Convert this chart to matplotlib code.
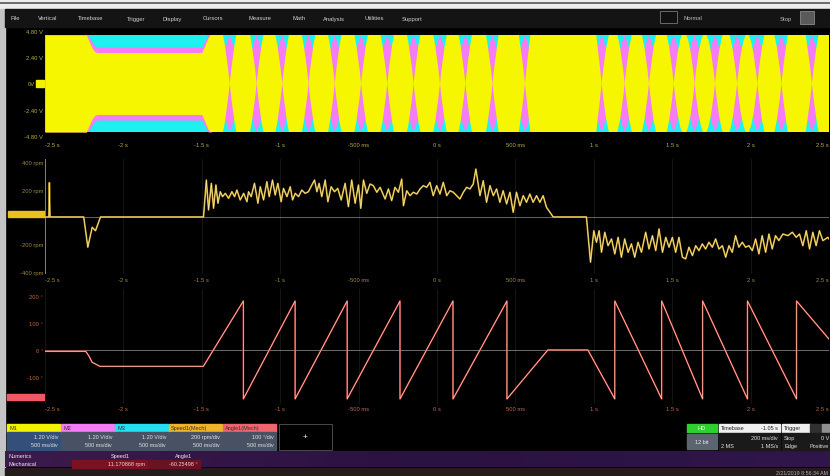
import numpy as np
import matplotlib.pyplot as plt
from matplotlib.path import Path
from matplotlib.patches import PathPatch, Rectangle
from matplotlib.transforms import blended_transform_factory

plt.rcParams['font.family'] = ['Liberation Sans', 'DejaVu Sans']

W, H = 830, 477

# time axis shared by the three panels
tick_t = [-2.5, -2, -1.5, -1, -0.5, 0, 0.5, 1, 1.5, 2, 2.5]
tick_txt = ['-2.5 s', '-2 s', '-1.5 s', '-1 s', '-500 ms', '0 s',
            '500 ms', '1 s', '1.5 s', '2 s', '2.5 s']

# top panel: phase voltages M1 (yellow), M2 (magenta), M3 (cyan)
volt_ticks = [4.8, 2.4, -2.4, -4.8]
volt_txt = ['4.80 V', '2.40 V', '-2.40 V', '-4.80 V']
rail_v = 4.43
band_t = [-2.50, -2.236, -2.22, -2.20, -2.185, -2.17, -1.50, -1.48, -1.46, -1.44]
band_yel = [4.43, 4.43, 3.9, 3.25, 2.95, 2.83, 2.83, 3.5, 4.2, 4.43]
band_mag = [4.43, 4.43, 4.3, 3.8, 3.5, 3.34, 3.34, 3.9, 4.43, 4.43]
# yellow envelope pinch points (magenta shows through at each one)
lens_edges = [-1.49, -1.322, -1.150, -0.987, -0.819, -0.652, -0.484, -0.317,
              -0.149, 0.019, 0.181, 0.354, 0.561, 1.050, 1.197, 1.352, 1.510,
              1.643, 1.773, 1.914, 2.043, 2.197, 2.391, 2.56]

# middle panel: Speed1 (Mech)
rpm_ticks = [400, 200, -200, -400]
rpm_txt = ['400 rpm', '200 rpm', '-200 rpm', '-400 rpm']
speed_t = [-2.500, -2.475, -2.472, -2.468, -2.253, -2.227, -2.199, -2.178, -2.146, -1.489,
           -1.471, -1.457, -1.439, -1.425, -1.410, -1.397, -1.382, -1.368, -1.350, -1.329,
           -1.308, -1.291, -1.276, -1.255, -1.233, -1.212, -1.202, -1.185, -1.164, -1.142,
           -1.127, -1.106, -1.085, -1.070, -1.049, -1.032, -1.015, -0.994, -0.979, -0.957,
           -0.936, -0.921, -0.904, -0.883, -0.862, -0.841, -0.820, -0.798, -0.781, -0.766,
           -0.752, -0.735, -0.713, -0.696, -0.675, -0.654, -0.633, -0.611, -0.586, -0.565,
           -0.544, -0.522, -0.501, -0.486, -0.469, -0.448, -0.427, -0.406, -0.384, -0.363,
           -0.331, -0.310, -0.289, -0.268, -0.246, -0.225, -0.214, -0.193, -0.172, -0.151,
           -0.129, -0.108, -0.087, -0.066, -0.045, -0.024, -0.002, 0.019, 0.040, 0.062,
           0.083, 0.104, 0.125, 0.146, 0.168, 0.189, 0.210, 0.231, 0.248, 0.263,
           0.274, 0.295, 0.316, 0.338, 0.359, 0.380, 0.401, 0.422, 0.444, 0.465,
           0.486, 0.507, 0.529, 0.550, 0.571, 0.592, 0.613, 0.635, 0.656, 0.677,
           0.698, 0.720, 0.741, 0.953, 0.979, 1.000, 1.017, 1.034, 1.049, 1.070,
           1.091, 1.113, 1.134, 1.155, 1.176, 1.197, 1.219, 1.240, 1.261, 1.282,
           1.304, 1.331, 1.352, 1.374, 1.395, 1.416, 1.438, 1.459, 1.480, 1.501,
           1.522, 1.543, 1.565, 1.586, 1.607, 1.629, 1.650, 1.671, 1.692, 1.713,
           1.734, 1.756, 1.777, 1.798, 1.820, 1.841, 1.862, 1.883, 1.904, 1.925,
           1.947, 1.968, 1.989, 2.011, 2.032, 2.053, 2.074, 2.096, 2.117, 2.138,
           2.159, 2.180, 2.206, 2.238, 2.266, 2.291, 2.312, 2.333, 2.355, 2.376,
           2.397, 2.418, 2.439, 2.461, 2.493, 2.500]
speed_rpm = [0, 0, 250, 0, 0, -220, -75, -100, 0, 0,
             269, 51, 245, 63, 233, 100, 184, 148, 172, 136,
             184, 148, 196, 124, 172, 111, 184, 148, 245, 100,
             220, 124, 257, 148, 269, 160, 245, 111, 208, 148,
             220, 124, 172, 148, 196, 172, 184, 233, 269, 184,
             245, 148, 269, 111, 220, 184, 208, 124, 245, 75,
             269, 100, 233, 63, 269, 172, 240, 228, 180, 216,
             131, 204, 119, 216, 180, 276, 82, 191, 155, 180,
             167, 204, 228, 216, 252, 155, 228, 167, 252, 155,
             191, 180, 155, 131, 180, 216, 204, 240, 349, 240,
             155, 264, 107, 228, 155, 204, 107, 191, 95, 180,
             34, 180, 82, 155, 107, 167, 107, 155, 107, 155,
             71, 34, 0, 0, -329, -100, -184, -100, -257, -111,
             -209, -160, -269, -148, -293, -160, -257, -196, -293, -184,
             -257, -111, -233, -136, -245, -87, -257, -148, -220, -148,
             -257, -148, -293, -305, -220, -281, -209, -245, -196, -233,
             -184, -220, -160, -233, -209, -293, -209, -257, -136, -220,
             -184, -220, -209, -245, -160, -269, -136, -257, -124, -233,
             -136, -172, -124, -136, -111, -148, -124, -209, -100, -233,
             -111, -209, -100, -172, -148, -160]

# bottom panel: Angle1 (Mech)
deg_ticks = [200, 100, 0, -100]
deg_txt = ['200 °', '100 °', '0 °', '-100 °']
angle_t = [-2.50, -2.24, -2.22, -2.20, -2.15, -1.49, -1.235, -1.235, -0.905, -0.905,
           -0.573, -0.573, -0.236, -0.236, 0.102, 0.102, 0.446, 0.446, 0.707, 0.962,
           1.134, 1.134, 1.433, 1.433, 1.694, 1.694, 1.98, 1.98, 2.293, 2.293, 2.50]
angle_deg = [-5, -5, -22, -45, -60, -60, 180, -180, 180, -180,
             180, -180, 180, -180, 180, -180, 180, -180, 0, 0,
             -180, 180, -180, 180, -180, 180, -180, 180, -180, 180, 40]

# channel descriptors along the bottom
chan_names = ['M1', 'M2', 'M3', 'Speed1(Mech)', 'Angle1(Mech)']
chan_colors = ['#f2f200', '#f47cf4', '#22e0f0', '#f0b428', '#f06470']
chan_line1 = ['1.20 V/div', '1.20 V/div', '1.20 V/div', '200 rpm/div', '100 °/div']
chan_line2 = ['500 ms/div', '500 ms/div', '500 ms/div', '500 ms/div', '500 ms/div']
menu_items = ['File', 'Vertical', 'Timebase', 'Trigger', 'Display', 'Cursors',
              'Measure', 'Math', 'Analysis', 'Utilities', 'Support']
menu_x = [10, 38, 78, 127, 162, 203, 248, 292, 323, 364, 402]


def box(x0, y0, x1, y1):
    return [x0 / W, 1 - y1 / H, (x1 - x0) / W, (y1 - y0) / H]


fig = plt.figure(figsize=(W / 100, H / 100), dpi=100, facecolor='black')

# ---- screen chrome (pixel coordinates) ----
bg = fig.add_axes([0, 0, 1, 1])
bg.set_xlim(0, W)
bg.set_ylim(H, 0)
bg.axis('off')
bg.add_patch(Rectangle((0, 0), W, 10, color='#ececec'))
bg.plot([0, W], [4, 4], color='#555555', lw=1.2)
bg.add_patch(Rectangle((0, 10), 5, H - 10, color='#c4c4c4'))
bg.add_patch(Rectangle((5, 10), W - 5, 18, color='#141414'))
for name, x in zip(menu_items, menu_x):
    bg.text(x, 19, name, color='#d0d0d0', fontsize=4.2, va='center')
bg.add_patch(Rectangle((660, 12), 17, 12, facecolor='#101010', edgecolor='#777777', lw=0.6))
bg.text(683, 19, 'Normal', color='#bbbbbb', fontsize=4.2, va='center')
bg.text(780, 19, 'Stop', color='#bbbbbb', fontsize=4.2, va='center')
bg.add_patch(Rectangle((800, 12), 14, 13, facecolor='#5a5a5a', edgecolor='#999999', lw=0.5))

# channel offset markers
bg.add_patch(Rectangle((36, 81), 8, 7, color='#f2f200'))
bg.add_patch(Rectangle((8, 212), 37, 6, color='#e8c020'))
bg.add_patch(Rectangle((7, 395), 38, 6, color='#f05868'))

# channel descriptor boxes
for i, (nm, col, l1, l2) in enumerate(zip(chan_names, chan_colors, chan_line1, chan_line2)):
    x0 = 7 + i * 54
    bg.add_patch(Rectangle((x0, 425), 53, 8, color=col))
    bg.text(x0 + 2, 429, nm, color='#333333', fontsize=4, va='center')
    body = '#34507a' if i == 0 else '#485264'
    bg.add_patch(Rectangle((x0, 433), 53, 18, color=body))
    bg.text(x0 + 51, 438, l1, color='#e0e0e0', fontsize=4, va='center', ha='right')
    bg.text(x0 + 51, 446, l2, color='#e0e0e0', fontsize=4, va='center', ha='right')
bg.add_patch(Rectangle((279, 425), 53, 26, facecolor='black', edgecolor='#555555', lw=0.6))
bg.text(305, 438, '+', color='white', fontsize=6, ha='center', va='center')

# numerics strip
grad = np.linspace(0, 1, 200).reshape(1, -1)
bg.imshow(grad, extent=[5, W, 468, 452], cmap=plt.matplotlib.colors.LinearSegmentedColormap.from_list(
    'p', ['#3c1a4c', '#2a1242', '#30164a']), aspect='auto', zorder=1)
bg.set_xlim(0, W)
bg.set_ylim(H, 0)
bg.plot([5, W], [468.5, 468.5], color='#9a9aa8', lw=0.7, zorder=2)
bg.add_patch(Rectangle((5, 469), W - 5, 8, color='#241c1c', zorder=2))
bg.text(8, 456.5, 'Numerics', color='#e8e8e8', fontsize=4, va='center', zorder=3)
bg.text(8, 464.5, 'Mechanical', color='#e8e8e8', fontsize=4, va='center', zorder=3)
bg.text(120, 456.5, 'Speed1', color='#e8e8e8', fontsize=4, va='center', ha='center', zorder=3)
bg.text(184, 456.5, 'Angle1', color='#e8e8e8', fontsize=4, va='center', ha='center', zorder=3)
bg.add_patch(Rectangle((72, 460.5), 75, 8, color='#7a1222', zorder=2))
bg.add_patch(Rectangle((148, 460.5), 52, 8, color='#6a1222', zorder=2))
bg.text(145, 464.5, '11.170868 rpm', color='#f0d0d0', fontsize=4, va='center', ha='right', zorder=3)
bg.text(198, 464.5, '-60.25498 °', color='#f0d0d0', fontsize=4, va='center', ha='right', zorder=3)
bg.text(828, 473.5, '2/21/2019 8:56:34 AM', color='#b0b0b0', fontsize=3.8, va='center', ha='right', zorder=3)

# acquisition boxes at bottom right
bg.add_patch(Rectangle((687, 425), 30, 8, color='#2ed02e'))
bg.text(702, 429, 'HD', color='white', fontsize=4, ha='center', va='center')
bg.add_patch(Rectangle((687, 435), 30, 15, color='#5c6470'))
bg.text(702, 442.5, '12 bit', color='#e8e8e8', fontsize=4, ha='center', va='center')
bg.add_patch(Rectangle((719, 425), 61, 8, color='#f0f0f0'))
bg.text(721, 429, 'Timebase', color='#222222', fontsize=4, va='center')
bg.text(778, 429, '-1.05 s', color='#222222', fontsize=4, va='center', ha='right')
bg.add_patch(Rectangle((719, 434), 61, 17, color='#1a1a1a'))
bg.text(778, 438.5, '200 ms/div', color='#e0e0e0', fontsize=4, va='center', ha='right')
bg.text(721, 446.5, '2 MS', color='#e0e0e0', fontsize=4, va='center')
bg.text(778, 446.5, '1 MS/s', color='#e0e0e0', fontsize=4, va='center', ha='right')
bg.add_patch(Rectangle((782, 425), 28, 8, color='#f0f0f0'))
bg.text(784, 429, 'Trigger', color='#222222', fontsize=4, va='center')
bg.add_patch(Rectangle((810, 425), 12, 8, color='#303030'))
bg.add_patch(Rectangle((822, 425), 8, 8, color='#909090'))
bg.add_patch(Rectangle((782, 434), 48, 17, color='#1a1a1a'))
bg.text(784, 438.5, 'Stop', color='#e0e0e0', fontsize=4, va='center')
bg.text(829, 438.5, '0 V', color='#e0e0e0', fontsize=4, va='center', ha='right')
bg.text(784, 446.5, 'Edge', color='#e0e0e0', fontsize=4, va='center')
bg.text(829, 446.5, 'Positive', color='#e0e0e0', fontsize=4, va='center', ha='right')


def style(ax, lab_col, pad):
    ax.set_facecolor('black')
    ax.set_xlim(-2.5, 2.5)
    for s in ax.spines.values():
        s.set_visible(False)
    ax.set_xticks(tick_t, tick_txt)
    ax.tick_params(length=0, labelsize=4.2, colors=lab_col, pad=pad)
    labs = ax.get_xticklabels()
    labs[0].set_ha('left')
    labs[-1].set_ha('right')
    ax.tick_params(axis='y', pad=1.5)


# ---- top panel ----
ax1 = fig.add_axes(box(45, 32, 829, 137))
style(ax1, '#b8a848', 4.5)
ax1.set_ylim(-4.8, 4.8)
ax1.set_yticks(volt_ticks, volt_txt)
ax1.text(-0.013, 0, '0V', color='#b8a848', fontsize=4.2, ha='right', va='center',
         transform=blended_transform_factory(ax1.transAxes, ax1.transData))
clip = Rectangle((-2.5, -rail_v), 5, 2 * rail_v, transform=ax1.transData)
ax1.axhspan(-rail_v, rail_v, xmin=0, xmax=1, color='#1ef0f0', lw=0, zorder=1)
bt = np.array(band_t)
ax1.fill_between(bt, -np.array(band_mag), band_mag, color='#f47cf4', lw=0, zorder=2)
for tc in lens_edges[1:-1]:
    d = 0.12
    verts = [(tc, rail_v), (tc + d, 0), (tc, -rail_v), (tc - d, 0), (tc, rail_v), (tc, rail_v)]
    codes = [Path.MOVETO, Path.CURVE3, Path.CURVE3, Path.CURVE3, Path.CURVE3, Path.CLOSEPOLY]
    p = PathPatch(Path(verts, codes), facecolor='#f47cf4', lw=0, zorder=3)
    ax1.add_patch(p)
    p.set_clip_path(clip)
ax1.fill_between(bt, -np.array(band_yel), band_yel, color='#f6f600', lw=0, zorder=4)
for t0, t1 in zip(lens_edges[:-1], lens_edges[1:]):
    tm = (t0 + t1) / 2
    c = 70 * (t1 - t0)
    verts = [(t0, 0), (tm, c), (t1, 0), (tm, -c), (t0, 0), (t0, 0)]
    codes = [Path.MOVETO, Path.CURVE3, Path.CURVE3, Path.CURVE3, Path.CURVE3, Path.CLOSEPOLY]
    p = PathPatch(Path(verts, codes), facecolor='#f6f600', lw=0, zorder=5)
    ax1.add_patch(p)
    p.set_clip_path(clip)

# ---- middle panel ----
ax2 = fig.add_axes(box(45, 160, 829, 275))
style(ax2, '#9a8a40', 2.5)
ax2.set_ylim(-415, 422)
ax2.set_yticks(rpm_ticks, rpm_txt)
ax2.grid(axis='x', color='#181818', lw=0.6)
ax2.axvline(-2.5, color='#b09a30', lw=1.2)
ax2.axhline(0, color='#8c8c8c', lw=0.5)
ax2.plot(speed_t, speed_rpm, color='#c8a020', lw=1.2)
ax2.plot(speed_t, speed_rpm, color='#fff0b8', lw=0.4)

# ---- bottom panel ----
ax3 = fig.add_axes(box(45, 290, 829, 405))
style(ax3, '#b86850', 1.5)
ax3.set_ylim(-198.5, 224)
ax3.set_yticks(deg_ticks, deg_txt)
ax3.grid(axis='x', color='#181818', lw=0.6)
ax3.axhline(0, color='#9a9a9a', lw=0.5)
ax3.plot(angle_t, angle_deg, color='#e04838', lw=1.1)
ax3.plot(angle_t, angle_deg, color='#ffd8d0', lw=0.4)

fig.savefig('out.png', dpi=100, facecolor='black')
